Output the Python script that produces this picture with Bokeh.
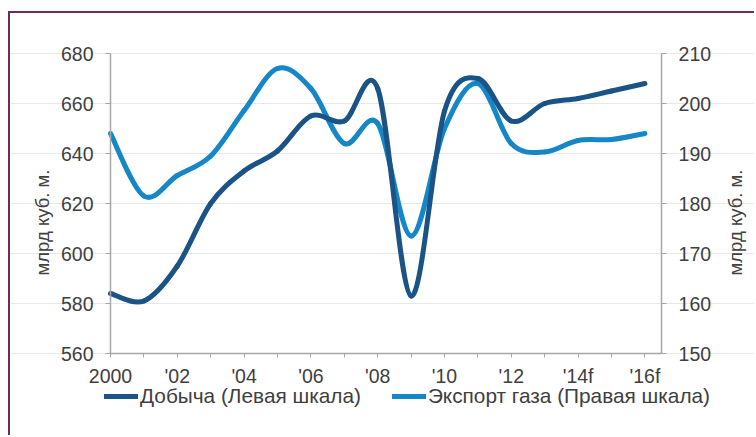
import numpy as np
from bokeh.plotting import figure
from bokeh.models import Range1d, LinearAxis, FixedTicker, Legend, LegendItem, Label
from bokeh.embed import file_html
from bokeh.resources import INLINE

# Annual figures, bcm
years = [2000, 2001, 2002, 2003, 2004, 2005, 2006, 2007, 2008,
         2009, 2010, 2011, 2012, 2013, 2014, 2015, 2016]
production = [584, 581, 595, 620, 633, 641, 655, 653, 666,
              583, 657, 670, 653, 660, 662, 665, 668]      # left scale
exports = [194, 181.5, 185.6, 189.5, 198.6, 207, 203, 192, 196,
           173.5, 195, 204, 192, 190.3, 192.6, 192.8, 194]  # right scale

tick_years = [2000, 2002, 2004, 2006, 2008, 2010, 2012, 2014, 2016]
tick_labels = ["2000", "'02", "'04", "'06", "'08", "'10", "'12", "'14f", "'16f"]
minor_years = [2001, 2003, 2005, 2007, 2009, 2011, 2013, 2015]
left_ticks = [560, 580, 600, 620, 640, 660, 680]
right_ticks = [150, 160, 170, 180, 190, 200, 210]

series_names = ["Добыча (Левая шкала)", "Экспорт газа (Правая шкала)"]
unit_label = "млрд куб. м."

DARK = "#1a5386"
LIGHT = "#1586c6"
TEXT = "#404040"
AXIS = "#a6a6a6"
BORDER = "#6b2c5f"
FONT = "Liberation Sans"

W, H = 746, 424          # figure size inside the framed page
PX_YEAR = 33.4           # horizontal scale, px per year
PX_UNIT = 2.5            # vertical scale, px per left-axis unit
X_LEFT, Y_TOP = 100, 40  # offset of (2000, 680) from the figure's top-left


def smooth_segments(xs, ys):
    """Cubic Bezier control points for a Catmull-Rom style smoothed line."""
    x = np.asarray(xs, float)
    y = np.asarray(ys, float)
    xp = np.concatenate([[x[0]], x, [x[-1]]])
    yp = np.concatenate([[y[0]], y, [y[-1]]])
    seg = dict(x0=[], y0=[], x1=[], y1=[], cx0=[], cy0=[], cx1=[], cy1=[])
    for i in range(len(x) - 1):
        p0x, p0y = xp[i], yp[i]
        p1x, p1y = xp[i + 1], yp[i + 1]
        p2x, p2y = xp[i + 2], yp[i + 2]
        p3x, p3y = xp[i + 3], yp[i + 3]
        seg["x0"].append(p1x); seg["y0"].append(p1y)
        seg["x1"].append(p2x); seg["y1"].append(p2y)
        seg["cx0"].append(p1x + (p2x - p0x) / 6); seg["cy0"].append(p1y + (p2y - p0y) / 6)
        seg["cx1"].append(p2x - (p3x - p1x) / 6); seg["cy1"].append(p2y - (p3y - p1y) / 6)
    return seg


x0 = years[0] - X_LEFT / PX_YEAR
x1 = years[0] + (W - X_LEFT) / PX_YEAR
y1 = left_ticks[-1] + Y_TOP / PX_UNIT
y0 = left_ticks[-1] - (H - Y_TOP) / PX_UNIT
r_scale = (right_ticks[-1] - right_ticks[0]) / (left_ticks[-1] - left_ticks[0])
ry1 = right_ticks[-1] + (y1 - left_ticks[-1]) * r_scale
ry0 = right_ticks[0] - (left_ticks[0] - y0) * r_scale
x_end = 2016.5

p = figure(width=W, height=H, output_backend="svg", toolbar_location=None,
           x_range=Range1d(x0, x1), y_range=Range1d(y0, y1),
           min_border_left=0, min_border_right=0, min_border_top=0,
           min_border_bottom=0)
p.styles = {"border-top": f"2px solid {BORDER}", "border-left": f"2px solid {BORDER}",
            "margin-left": "8px", "margin-top": "11px"}
p.extra_y_ranges = {"right": Range1d(ry0, ry1)}
p.outline_line_color = None
p.background_fill_color = "white"
p.border_fill_color = "white"

# grid
p.xgrid.grid_line_color = None
p.ygrid.grid_line_color = "#e8e8e8"
p.ygrid.grid_line_width = 1
p.ygrid.ticker = FixedTicker(ticks=left_ticks)
p.ygrid.bounds = (years[0], x_end)


def style_axis(ax, tick_out):
    ax.axis_line_color = AXIS
    ax.axis_line_width = 1.5
    ax.major_tick_line_color = AXIS
    ax.minor_tick_line_color = AXIS
    ax.major_tick_in = 0
    ax.major_tick_out = tick_out
    ax.minor_tick_in = 0
    ax.minor_tick_out = tick_out
    ax.major_label_text_font = FONT
    ax.major_label_text_font_size = "19.5px"
    ax.major_label_text_color = TEXT


# x axis, pinned to the bottom of the value scale
xa = p.xaxis[0]
xa.ticker = FixedTicker(ticks=tick_years, minor_ticks=minor_years)
xa.major_label_overrides = {yr: lab for yr, lab in zip(tick_years, tick_labels)}
style_axis(xa, 4)
xa.major_label_standoff = 7
xa.fixed_location = left_ticks[0]
xa.bounds = (years[0], x_end)

# left axis
ya = p.yaxis[0]
ya.ticker = FixedTicker(ticks=left_ticks)
style_axis(ya, 5)
ya.minor_tick_line_color = None
ya.major_label_standoff = 12
ya.fixed_location = years[0]
ya.bounds = (left_ticks[0], left_ticks[-1])

# right axis
ra = LinearAxis(y_range_name="right", ticker=FixedTicker(ticks=right_ticks))
style_axis(ra, 5)
ra.minor_tick_line_color = None
ra.major_label_standoff = 12
ra.fixed_location = x_end
ra.bounds = (right_ticks[0], right_ticks[-1])
p.add_layout(ra, "right")

# unit labels on both sides, reading bottom to top
for sx in (32, 725):
    p.add_layout(Label(x=sx, y=215, x_units="screen", y_units="screen", text=unit_label,
                       angle=np.pi / 2, text_align="center", text_baseline="middle",
                       text_font=FONT, text_font_size="18.5px", text_color=TEXT))

# smoothed series
s_prod = smooth_segments(years, production)
s_exp = smooth_segments(years, exports)
p.bezier(source=s_exp, x0="x0", y0="y0", x1="x1", y1="y1", cx0="cx0", cy0="cy0",
         cx1="cx1", cy1="cy1", line_color=LIGHT, line_width=5, line_cap="round",
         y_range_name="right")
p.bezier(source=s_prod, x0="x0", y0="y0", x1="x1", y1="y1", cx0="cx0", cy0="cy0",
         cx1="cx1", cy1="cy1", line_color=DARK, line_width=5, line_cap="round")

# legend swatches (single-point lines: they show only in the legend)
leg_prod = p.line(x=years[:1], y=production[:1], line_color=DARK, line_width=5,
                  line_cap="round")
leg_exp = p.line(x=years[:1], y=exports[:1], line_color=LIGHT, line_width=5,
                 line_cap="round", y_range_name="right")
legend = Legend(items=[LegendItem(label=series_names[0], renderers=[leg_prod]),
                       LegendItem(label=series_names[1], renderers=[leg_exp])],
                orientation="horizontal", location=(94, 29),
                glyph_width=34, glyph_height=20, label_standoff=2, spacing=31,
                padding=0, margin=0, border_line_color=None,
                background_fill_alpha=0,
                label_text_font=FONT, label_text_font_size="20.8px",
                label_text_color=TEXT)
p.add_layout(legend, "center")

open("out.html", "w").write(file_html(p, INLINE))
